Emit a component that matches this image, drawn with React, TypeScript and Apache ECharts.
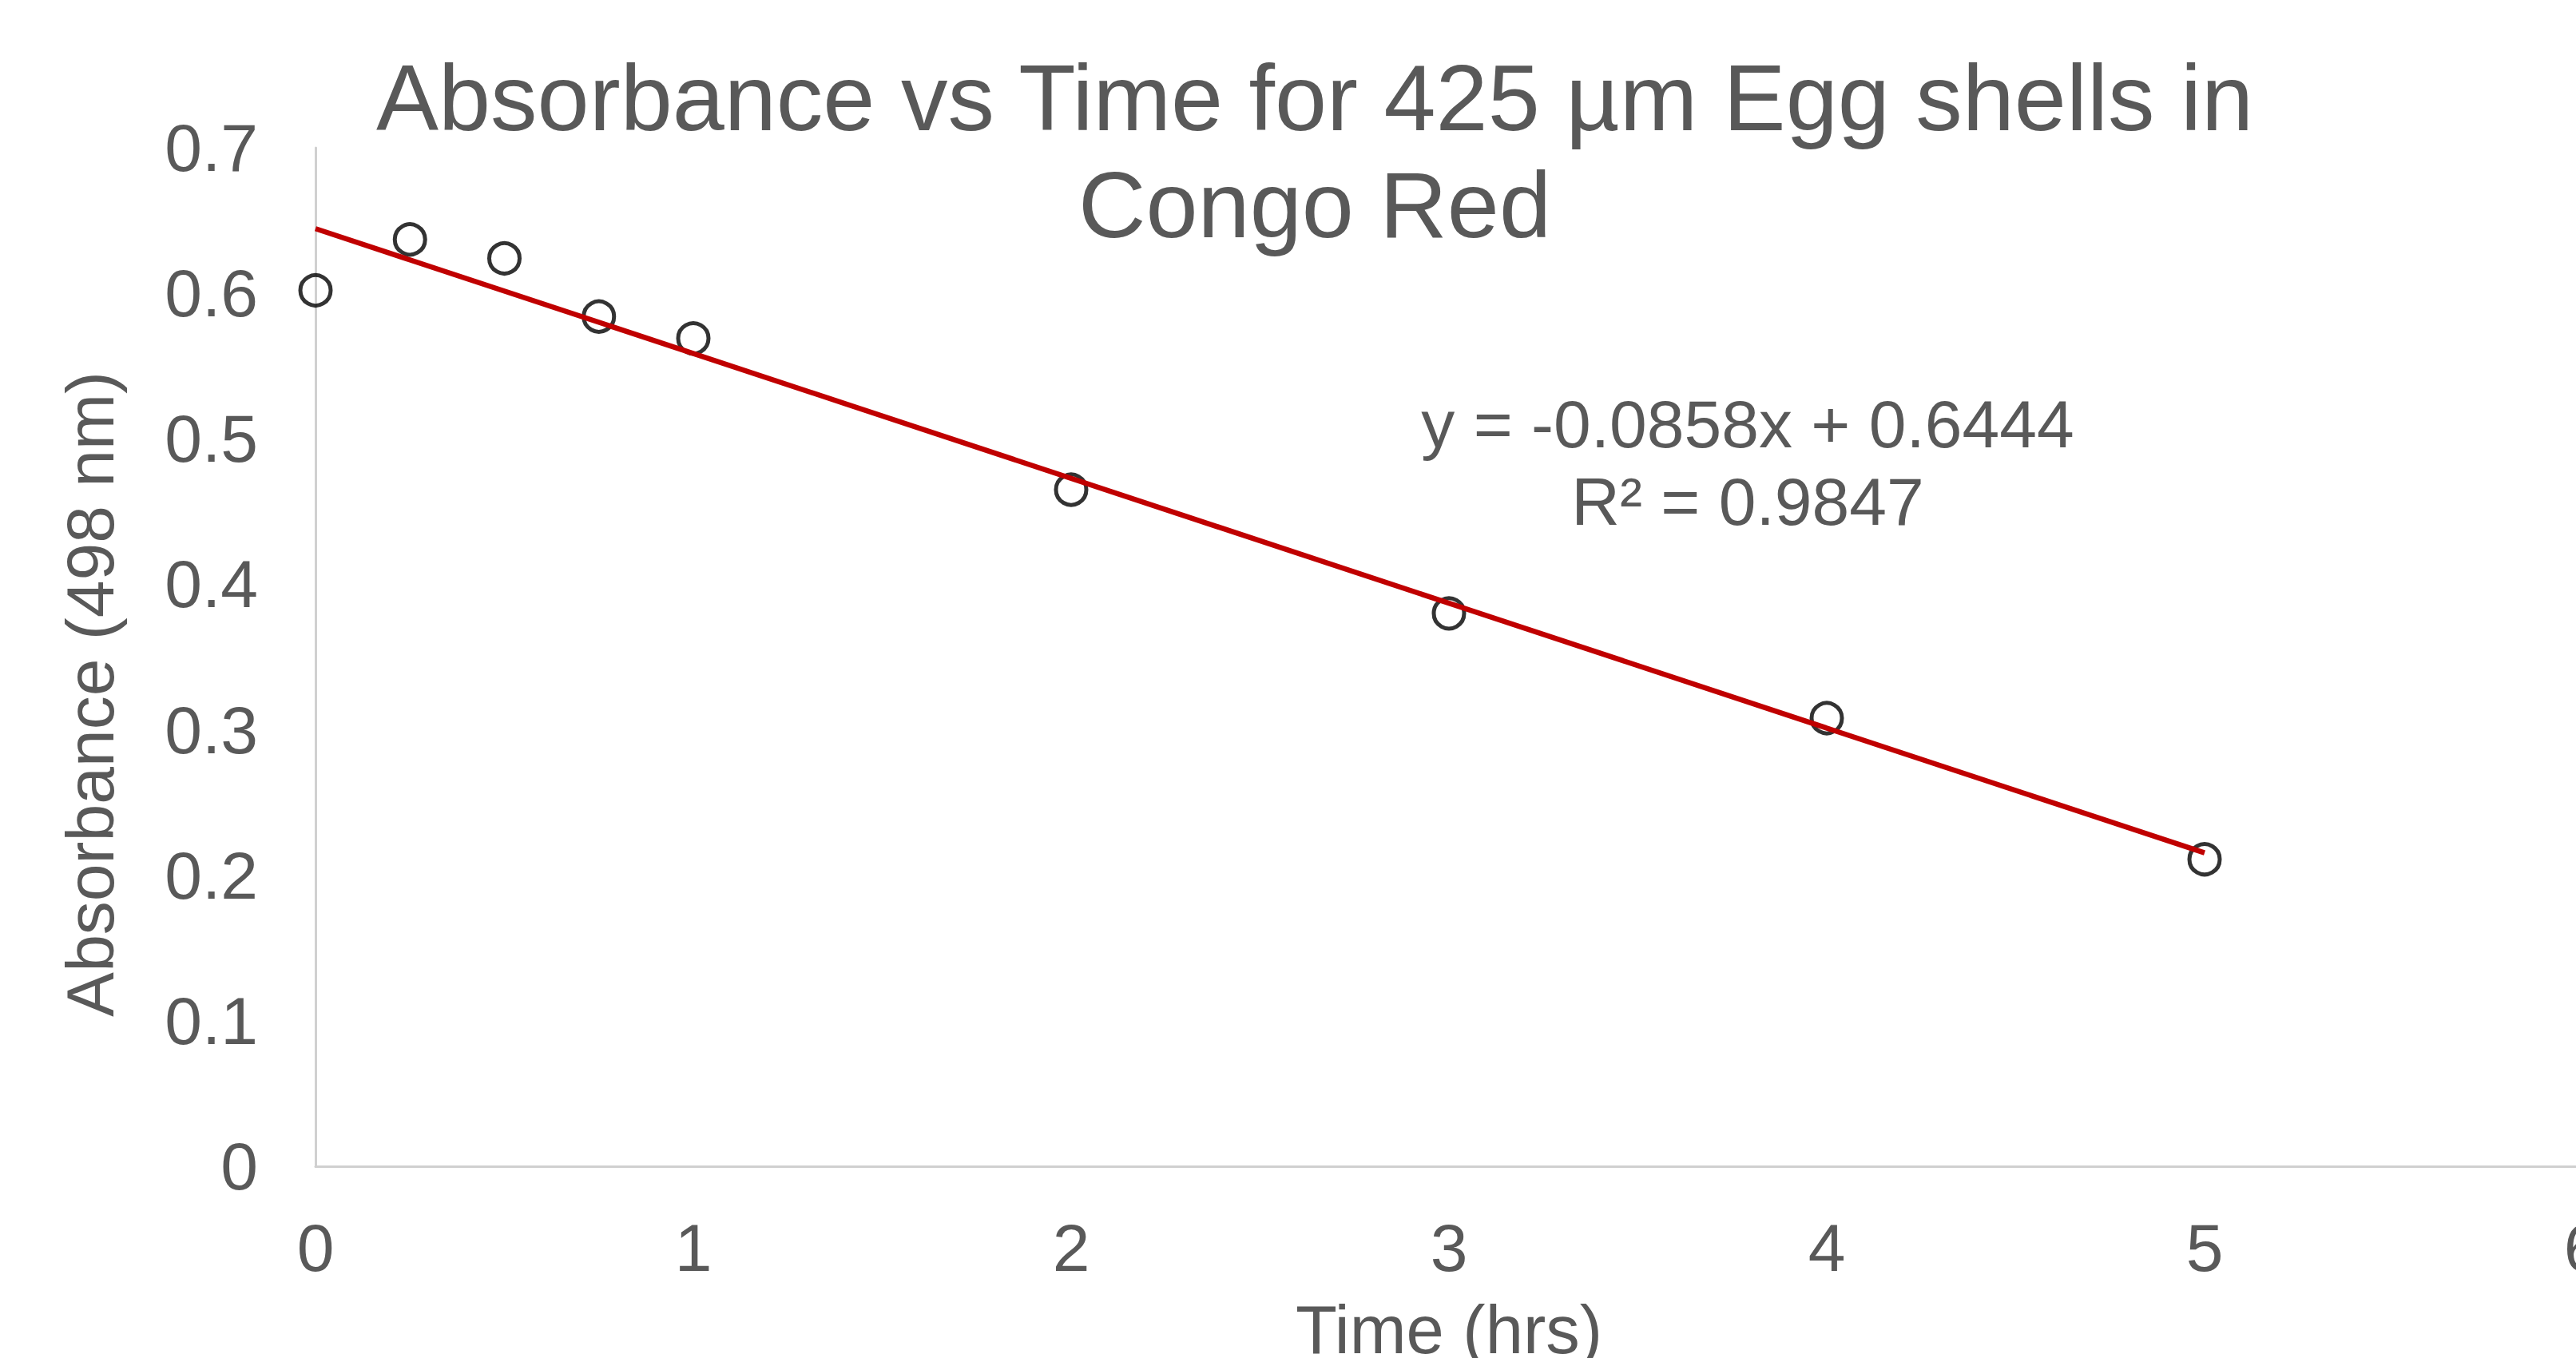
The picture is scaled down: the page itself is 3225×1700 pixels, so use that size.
import React, { useEffect, useRef } from "react";
import * as echarts from "echarts";

const timeHrs = [0, 0.25, 0.5, 0.75, 1, 2, 3, 4, 5];
const absorbance = [0.602, 0.637, 0.624, 0.584, 0.569, 0.465, 0.38, 0.308, 0.211];
const trendSlope = -0.0858;
const trendIntercept = 0.6444;
const trendRange = [0, 5];
const titleLines = ["Absorbance vs Time for 425 µm Egg shells in", "Congo Red"];
const equationLines = ["y = -0.0858x + 0.6444", "R² = 0.9847"];
const xAxisTitle = "Time (hrs)";
const yAxisTitle = "Absorbance (498 nm)";

const TEXT = "#595959";
const FONT = "'Liberation Sans', Arial, sans-serif";

export default function App() {
  const ref = useRef<HTMLDivElement>(null);
  useEffect(() => {
    if (!ref.current) return;
    const chart = echarts.init(ref.current, null, { renderer: "svg" });
    const scatterData = timeHrs.map((t, i) => [t, absorbance[i]]);
    const trendData = trendRange.map((x) => [x, trendIntercept + trendSlope * x]);
    chart.setOption({
      animation: false,
      backgroundColor: "#ffffff",
      textStyle: { fontFamily: FONT },
      title: {
        text: titleLines.join("\n"),
        left: 1641,
        top: 50,
        textAlign: "center",
        textStyle: {
          color: TEXT,
          fontFamily: FONT,
          fontSize: 117,
          fontWeight: "normal",
          lineHeight: 134,
        },
      },
      grid: {
        left: 395,
        top: 185,
        width: 2838,
        height: 1275,
        containLabel: false,
        outerBoundsMode: "none",
      },
      xAxis: {
        type: "value",
        min: 0,
        max: 6,
        interval: 1,
        name: xAxisTitle,
        nameLocation: "middle",
        nameGap: 162,
        nameTextStyle: { color: TEXT, fontSize: 85, fontFamily: FONT },
        axisLine: { show: true, onZero: false, lineStyle: { color: "#D0D0D0", width: 3 } },
        axisTick: { show: false },
        splitLine: { show: false },
        axisLabel: { color: TEXT, fontSize: 84, fontFamily: FONT, margin: 60 },
      },
      yAxis: {
        type: "value",
        min: 0,
        max: 0.7,
        interval: 0.1,
        axisLine: { show: true, lineStyle: { color: "#D0D0D0", width: 3 } },
        axisTick: { show: false },
        splitLine: { show: false },
        axisLabel: { color: TEXT, fontSize: 84, fontFamily: FONT, margin: 72 },
      },
      graphic: [
        {
          type: "text",
          x: 113,
          y: 869,
          rotation: Math.PI / 2,
          style: {
            text: yAxisTitle,
            fill: TEXT,
            font: `84px ${FONT}`,
            textAlign: "center",
            textVerticalAlign: "middle",
          },
        },
        {
          type: "text",
          x: 2188,
          y: 482,
          z: 10,
          style: {
            text: equationLines.join("\n"),
            fill: TEXT,
            font: `84px ${FONT}`,
            lineHeight: 97,
            textAlign: "center",
            textVerticalAlign: "top",
          },
        },
      ],
      series: [
        {
          type: "scatter",
          data: scatterData,
          symbol: "circle",
          symbolSize: 38,
          itemStyle: { color: "rgba(255,255,255,0)", borderColor: "#000000", borderWidth: 5 },
          z: 2,
        },
        {
          type: "line",
          data: trendData,
          symbol: "none",
          lineStyle: { color: "#C00000", width: 6.5 },
          z: 3,
        },
      ],
    });
    return () => chart.dispose();
  }, []);
  return (
    <div
      style={{
        position: "absolute",
        left: 0,
        top: 0,
        width: 3225,
        height: 1700,
        overflow: "hidden",
        background: "#ffffff",
      }}
    >
      <div ref={ref} style={{ width: 3300, height: 1700 }} />
    </div>
  );
}
